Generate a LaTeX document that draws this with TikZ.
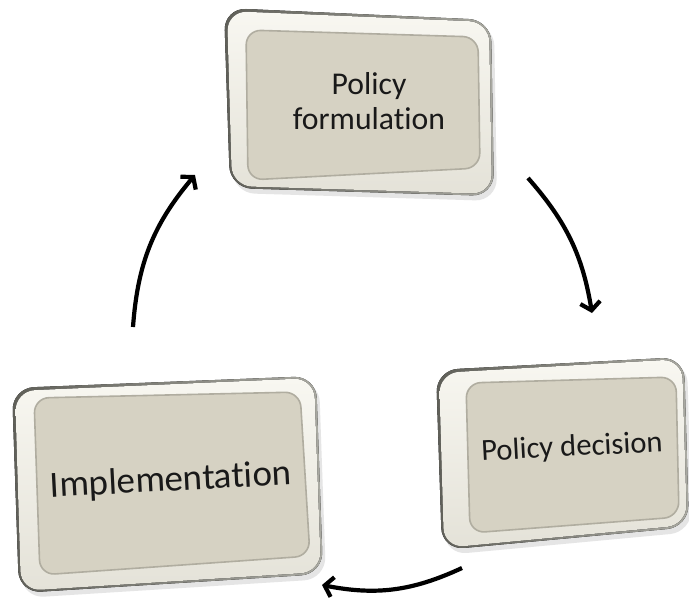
\documentclass[tikz,border=0pt]{standalone}
\usepackage{fontspec}
\setmainfont{Carlito}[RawFeature={-liga,-clig,-calt,-dlig}]
\usetikzlibrary{arrows.meta}
\definecolor{face}{RGB}{214,210,195}
\definecolor{rim}{RGB}{95,95,88}
\definecolor{rimlight}{RGB}{170,170,162}
\definecolor{edge}{RGB}{176,173,160}
\definecolor{bandtop}{RGB}{248,247,241}
\definecolor{bandbot}{RGB}{228,226,216}
\definecolor{txt}{RGB}{25,25,25}
\tikzset{
  flow/.style={line width=4.2pt, -{Straight Barb[length=8pt,width=20pt]}, black},
  lbl/.style={text=txt, align=center, inner sep=0pt},
  shadowpath/.style={rounded corners=22pt, fill=black!10},
  rimpath/.style={rounded corners=22pt, left color=rim, right color=rimlight},
  framepath/.style={rounded corners=20pt, top color=bandtop, bottom color=bandbot},
  facepath/.style={rounded corners=15pt, fill=face, draw=edge, line width=1.6pt}
}
\begin{document}
\begin{tikzpicture}[x=1pt,y=-1pt]
\useasboundingbox (0,0) rectangle (689,600);
\fill[white] (0,0) rectangle (689,600);

% top box
\fill[shadowpath] (227,12) -- (494,24) -- (497,201) -- (233,193) -- cycle;
\fill[rimpath] (224,8) -- (491,20) -- (494,196) -- (230,188) -- cycle;
\fill[framepath] (227,11) -- (489,22) -- (492,194) -- (232,186) -- cycle;
\draw[facepath] (246,30) -- (478,37) -- (480,168) -- (248,180) -- cycle;

% right box
\fill[shadowpath] (439,374) -- (687,361) -- (692,532) -- (445,555) -- cycle;
\fill[rimpath] (436,370) -- (684,357) -- (689,527) -- (442,550) -- cycle;
\fill[framepath] (439,373) -- (682,359) -- (687,525) -- (444,548) -- cycle;
\draw[facepath] (466,383) -- (676,377) -- (679,517) -- (470,533) -- cycle;

% left box
\fill[shadowpath] (15,392) -- (319,380) -- (326,579) -- (22,598) -- cycle;
\fill[rimpath] (12,388) -- (316,376) -- (323,574) -- (19,593) -- cycle;
\fill[framepath] (15,391) -- (314,378) -- (321,572) -- (21,591) -- cycle;
\draw[facepath] (34,398) -- (300,392) -- (310,556) -- (40,575) -- cycle;

\node[lbl, font=\fontsize{31.7}{35}\selectfont] (form) at (369,101) {Policy\\formulat\kern0pt ion};
\node[lbl, font=\fontsize{30.6}{34}\selectfont, rotate=3] (dec) at (572,448) {Policy decision};
\node[lbl, font=\fontsize{37}{40}\selectfont, rotate=3] (impl) at (171,481) {Implementat\kern0pt ion};

\coordinate (a1s) at (528,178);
\coordinate (a1e) at (592,313);
\coordinate (a2s) at (462,568);
\coordinate (a2e) at (322,585);
\coordinate (a3s) at (133,327);
\coordinate (a3e) at (195,175);

\draw[flow] (a1s) to[bend left=16] (a1e);
\draw[flow] (a2s) to[bend left=18] (a2e);
\draw[flow] (a3s) to[bend left=18] (a3e);
\end{tikzpicture}
\end{document}
